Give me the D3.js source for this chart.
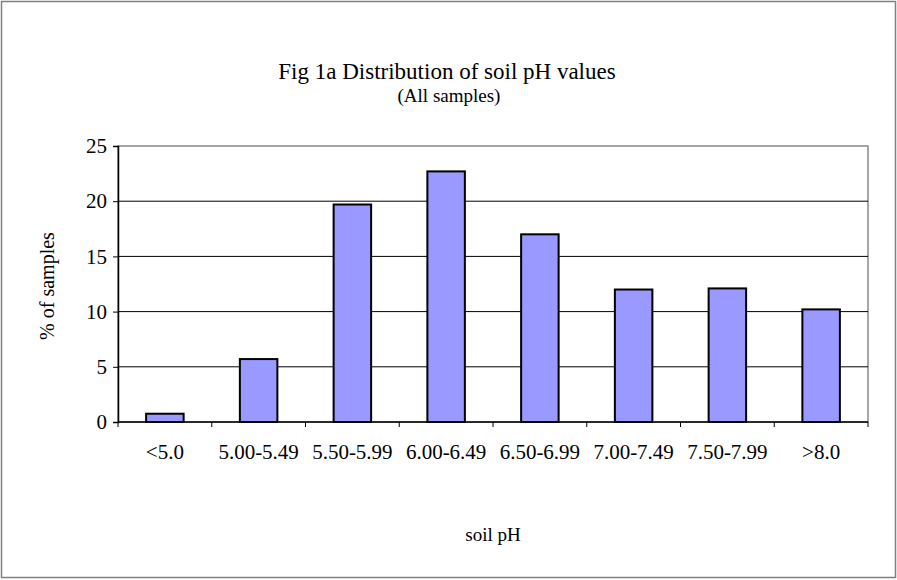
<!DOCTYPE html>
<html><head><meta charset="utf-8">
<script src="https://cdn.jsdelivr.net/npm/d3@7"></script>
<style>body{margin:0;background:#fff}text{font-family:"Liberation Serif","Times New Roman",serif;fill:#000}</style>
</head><body>
<svg width="897" height="580"></svg>
<script>
const categories = ["<5.0","5.00-5.49","5.50-5.99","6.00-6.49","6.50-6.99","7.00-7.49","7.50-7.99",">8.0"];
const values = [0.75, 5.7, 19.7, 22.7, 17.0, 12.0, 12.1, 10.2];
const yTicks = [0, 5, 10, 15, 20, 25];

const svg = d3.select('svg');
const plot = {left: 118, right: 868, top: 146, bottom: 422};

svg.append('rect').attr('x', 1.5).attr('y', 1.5).attr('width', 894).attr('height', 576)
    .style('fill', 'none').style('stroke', '#808080').style('stroke-width', 1.5);

const xScale = d3.scaleBand().domain(categories).range([plot.left, plot.right]).paddingInner(0.6).paddingOuter(0.3);
const yScale = d3.scaleLinear().domain([0, 25]).range([plot.bottom, plot.top]);

// plot frame
svg.append('rect').attr('x', plot.left).attr('y', plot.top)
    .attr('width', plot.right - plot.left).attr('height', plot.bottom - plot.top)
    .style('fill', 'none').style('stroke', '#888').style('stroke-width', 1.5);

// gridlines
svg.selectAll('.grid').data(yTicks.slice(1, -1)).enter().append('line')
    .attr('x1', plot.left).attr('x2', plot.right)
    .attr('y1', d => yScale(d)).attr('y2', d => yScale(d))
    .style('stroke', '#000').style('stroke-width', 1);

svg.selectAll('.bar').data(values).enter().append('rect')
    .attr('x', (d, i) => xScale(categories[i]))
    .attr('y', d => yScale(d))
    .attr('width', xScale.bandwidth())
    .attr('height', d => plot.bottom - yScale(d))
    .style('fill', '#9999ff').style('stroke', '#000').style('stroke-width', 2);

// y axis
const yAxis = d3.axisLeft(yScale).tickValues(yTicks).tickSize(5).tickPadding(6);
const ya = svg.append('g').attr('transform', 'translate(' + plot.left + ',0)').call(yAxis);
ya.select('.domain').style('stroke', '#000').style('stroke-width', 1.5);
ya.selectAll('text').style('font-size', '21px').style('font-family', '"Liberation Serif",serif');

// x axis line + ticks between categories
svg.append('line').attr('x1', plot.left).attr('x2', plot.right).attr('y1', plot.bottom).attr('y2', plot.bottom)
    .style('stroke', '#000').style('stroke-width', 1.5);
svg.selectAll('.xt').data(d3.range(categories.length + 1)).enter().append('line')
    .attr('x1', i => plot.left + i * (plot.right - plot.left) / categories.length)
    .attr('x2', i => plot.left + i * (plot.right - plot.left) / categories.length)
    .attr('y1', plot.bottom).attr('y2', plot.bottom + 5).style('stroke', '#000');
svg.selectAll('.xl').data(categories).enter().append('text')
    .attr('x', d => xScale(d) + xScale.bandwidth() / 2).attr('y', 459)
    .style('text-anchor', 'middle').style('font-size', '21px').text(d => d);

svg.append('text').attr('x', 447).attr('y', 79).style('text-anchor', 'middle').style('font-size', '23px')
    .text('Fig 1a Distribution of soil pH values');
svg.append('text').attr('x', 449).attr('y', 102).style('text-anchor', 'middle').style('font-size', '19px')
    .text('(All samples)');
svg.append('text').attr('x', 493).attr('y', 541).style('text-anchor', 'middle').style('font-size', '19px')
    .text('soil pH');
svg.append('text').attr('transform', 'translate(54,286) rotate(-90)').style('text-anchor', 'middle').style('font-size', '20px')
    .text('% of samples');
</script>
</body></html>
